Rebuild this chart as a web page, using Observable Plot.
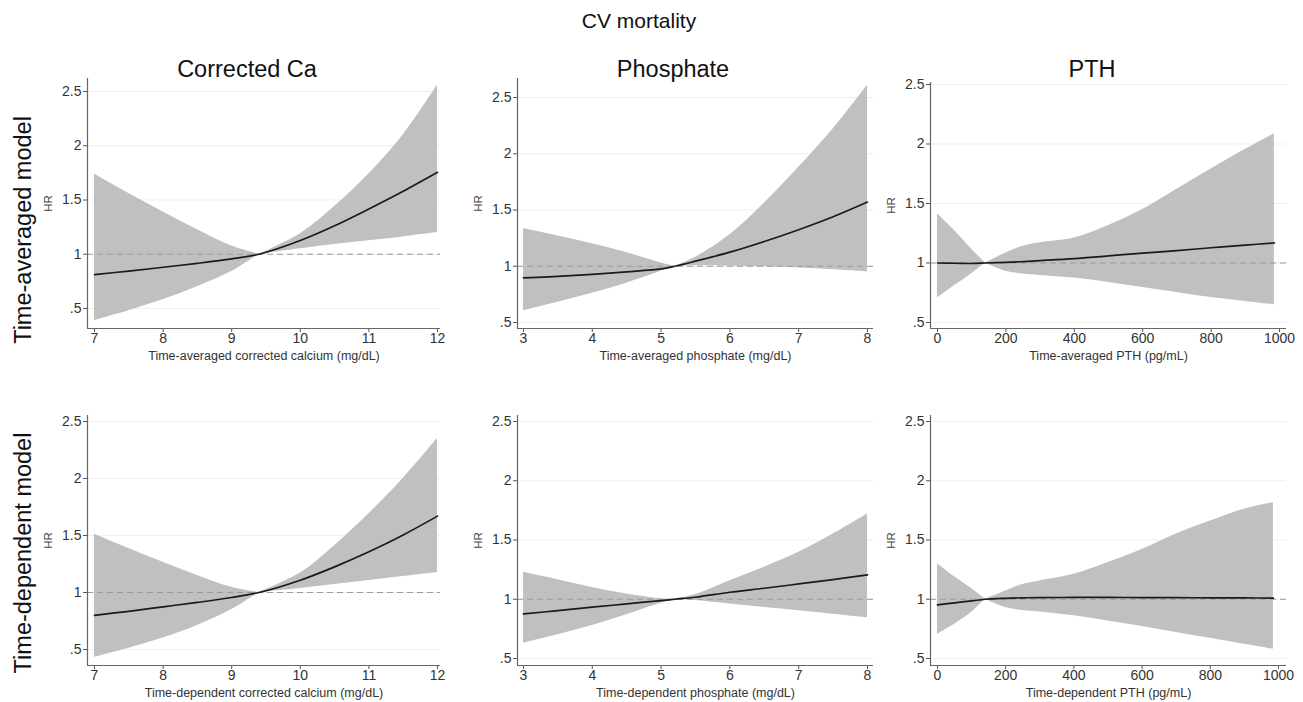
<!DOCTYPE html>
<html>
<head>
<meta charset="utf-8">
<script src="https://cdn.jsdelivr.net/npm/d3@7"></script>
<script src="https://cdn.jsdelivr.net/npm/@observablehq/plot@0.6"></script>
<style>
  html, body { margin: 0; padding: 0; background: #fff; }
  #chart { position: relative; width: 1303px; height: 702px; background: #fff; font-family: 'Liberation Sans', Arial, sans-serif; color: #111; overflow: hidden; }
  .panel { position: absolute; }
  .title { position: absolute; white-space: nowrap; transform: translate(-50%, -50%); }
  .rowlab { position: absolute; white-space: nowrap; transform: translate(-50%, -50%) rotate(-90deg); font-size: 23.5px; }
  .panel svg { overflow: visible; }
  .panel g[aria-label="y-axis label"] text { font-size: 11.5px; fill: #444; }
  .panel g[aria-label="x-axis label"] text { font-size: 12.5px; fill: #333; }
</style>
</head>
<body>
<div id="chart"></div>
<script>
// ---------- data ----------
const yTicks = [0.5, 1, 1.5, 2, 2.5];
const yTickLabels = [".5", "1", "1.5", "2", "2.5"];
const caTicks = [7, 8, 9, 10, 11, 12];
const phosTicks = [3, 4, 5, 6, 7, 8];
const pthTicks = [0, 200, 400, 600, 800, 1000];

const columnTitles = ["Corrected Ca", "Phosphate", "PTH"];
const rowTitles = ["Time-averaged model", "Time-dependent model"];
const mainTitle = "CV mortality";

// Time-averaged corrected calcium
const caAvgX  = [7, 7.5, 8, 8.5, 9, 9.4, 10, 10.5, 11, 11.5, 12];
const caAvgHR = [0.813, 0.845, 0.88, 0.916, 0.957, 1.0, 1.126, 1.262, 1.417, 1.58, 1.755];
const caAvgLo = [0.39, 0.48, 0.58, 0.70, 0.84, 1.0, 1.05, 1.09, 1.125, 1.16, 1.20];
const caAvgHi = [1.74, 1.56, 1.39, 1.225, 1.075, 1.0, 1.19, 1.44, 1.74, 2.10, 2.56];

// Time-averaged phosphate
const phAvgX  = [3, 3.5, 4, 4.5, 5, 5.2, 5.5, 6, 6.5, 7, 7.5, 8];
const phAvgHR = [0.896, 0.91, 0.928, 0.95, 0.976, 1.0, 1.045, 1.125, 1.22, 1.325, 1.44, 1.571];
const phAvgLo = [0.604, 0.68, 0.76, 0.85, 0.955, 1.0, 1.004, 1.0, 0.995, 0.985, 0.97, 0.95];
const phAvgHi = [1.336, 1.27, 1.20, 1.12, 1.03, 1.0, 1.08, 1.28, 1.56, 1.88, 2.22, 2.61];

// Time-averaged PTH
const pthAvgX  = [0, 50, 100, 140, 200, 250, 300, 400, 500, 600, 700, 800, 900, 985];
const pthAvgHR = [1.0, 0.998, 0.996, 1.0, 1.005, 1.012, 1.02, 1.037, 1.06, 1.083, 1.104, 1.128, 1.15, 1.169];
const pthAvgLo = [0.705, 0.81, 0.91, 1.0, 0.93, 0.907, 0.896, 0.873, 0.837, 0.795, 0.753, 0.71, 0.677, 0.649];
const pthAvgHi = [1.413, 1.27, 1.115, 1.0, 1.084, 1.14, 1.17, 1.21, 1.315, 1.45, 1.62, 1.79, 1.955, 2.087];

// Time-dependent corrected calcium
const caDepX  = [7, 7.5, 8, 8.5, 9, 9.4, 10, 10.5, 11, 11.5, 12];
const caDepHR = [0.80, 0.835, 0.874, 0.913, 0.956, 1.0, 1.108, 1.225, 1.357, 1.505, 1.67];
const caDepLo = [0.43, 0.51, 0.60, 0.71, 0.85, 1.0, 1.035, 1.07, 1.105, 1.14, 1.175];
const caDepHi = [1.51, 1.385, 1.265, 1.15, 1.045, 1.0, 1.17, 1.41, 1.69, 2.0, 2.35];

// Time-dependent phosphate
const phDepX  = [3, 3.5, 4, 4.5, 5, 5.2, 5.5, 6, 6.5, 7, 7.5, 8];
const phDepHR = [0.876, 0.904, 0.933, 0.961, 0.989, 1.0, 1.017, 1.059, 1.093, 1.129, 1.166, 1.205];
const phDepLo = [0.629, 0.70, 0.778, 0.87, 0.966, 1.0, 0.99, 0.96, 0.93, 0.904, 0.873, 0.843];
const phDepHi = [1.228, 1.165, 1.10, 1.045, 1.005, 1.0, 1.04, 1.157, 1.27, 1.396, 1.55, 1.72];

// Time-dependent PTH
const pthDepX  = [0, 50, 100, 140, 200, 250, 300, 400, 500, 600, 700, 800, 900, 985];
const pthDepHR = [0.952, 0.97, 0.986, 1.0, 1.008, 1.012, 1.014, 1.015, 1.015, 1.014, 1.013, 1.012, 1.011, 1.01];
const pthDepLo = [0.705, 0.79, 0.89, 1.0, 0.93, 0.905, 0.893, 0.86, 0.817, 0.77, 0.72, 0.67, 0.62, 0.579];
const pthDepHi = [1.30, 1.19, 1.09, 1.0, 1.07, 1.125, 1.155, 1.21, 1.31, 1.42, 1.55, 1.66, 1.76, 1.815];

const xLabels = [
  "Time-averaged corrected calcium (mg/dL)", "Time-averaged phosphate (mg/dL)", "Time-averaged PTH (pg/mL)",
  "Time-dependent corrected calcium (mg/dL)", "Time-dependent phosphate (mg/dL)", "Time-dependent PTH (pg/mL)"
];

// reference values (HR = 1, CI pinches to zero width)
const caRef = 9.4, phosRef = 5.2, pthRef = 140;

// ---------- layout (pixel anchors of each panel) ----------
const panels = [
  {x: caAvgX, hr: caAvgHR, lo: caAvgLo, hi: caAvgHi, ticks: caTicks, label: xLabels[0], ref: caRef,
   axisX: 87, rightX: 440, topY: 78, bottomY: 328, xa: [7, 94], xb: [12, 437], ya: [0.5, 308], yb: [2.5, 91]},
  {x: phAvgX, hr: phAvgHR, lo: phAvgLo, hi: phAvgHi, ticks: phosTicks, label: xLabels[1], ref: phosRef,
   axisX: 517, rightX: 873, topY: 78, bottomY: 328, xa: [3, 523], xb: [8, 867], ya: [0.5, 322], yb: [2.5, 97]},
  {x: pthAvgX, hr: pthAvgHR, lo: pthAvgLo, hi: pthAvgHi, ticks: pthTicks, label: xLabels[2], ref: pthRef,
   axisX: 930, rightX: 1286, topY: 82, bottomY: 328, xa: [0, 937], xb: [1000, 1279], ya: [0.5, 322], yb: [2.5, 84]},
  {x: caDepX, hr: caDepHR, lo: caDepLo, hi: caDepHi, ticks: caTicks, label: xLabels[3], ref: caRef,
   axisX: 87, rightX: 440, topY: 415, bottomY: 665, xa: [7, 94], xb: [12, 437], ya: [0.5, 649], yb: [2.5, 421]},
  {x: phDepX, hr: phDepHR, lo: phDepLo, hi: phDepHi, ticks: phosTicks, label: xLabels[4], ref: phosRef,
   axisX: 517, rightX: 873, topY: 415, bottomY: 665, xa: [3, 523], xb: [8, 867], ya: [0.5, 658], yb: [2.5, 421]},
  {x: pthDepX, hr: pthDepHR, lo: pthDepLo, hi: pthDepHi, ticks: pthTicks, label: xLabels[5], ref: pthRef,
   axisX: 930, rightX: 1286, topY: 415, bottomY: 665, xa: [0, 937], xb: [1000, 1278], ya: [0.5, 658], yb: [2.5, 421]}
];

const FONT = "'Liberation Sans', Arial, sans-serif";
const chart = document.getElementById("chart");
const ML = 60, MR = 10, MT = 5, MB = 45;

function valAt(a, b, px) { // linear map pixel -> value from two anchors
  return a[0] + (px - a[1]) * (b[0] - a[0]) / (b[1] - a[1]);
}

panels.forEach(p => {
  const rows = p.x.map((x, i) => ({x, hr: p.hr[i], lo: p.lo[i], hi: p.hi[i]}));
  // the band pinches at the reference value: draw the two sides as separate smooth segments
  const band = [
    ...rows.filter(d => d.x <= p.ref).map(d => ({...d, seg: "left"})),
    ...rows.filter(d => d.x >= p.ref).map(d => ({...d, seg: "right"}))
  ];
  const xDomain = [valAt(p.xa, p.xb, p.axisX), valAt(p.xa, p.xb, p.rightX)];
  const yDomain = [valAt(p.ya, p.yb, p.bottomY), valAt(p.ya, p.yb, p.topY)];
  const width = (p.rightX - p.axisX) + ML + MR;
  const height = (p.bottomY - p.topY) + MT + MB;
  const svg = Plot.plot({
    width, height,
    marginLeft: ML, marginRight: MR, marginTop: MT, marginBottom: MB,
    style: {fontFamily: FONT, fontSize: "14px", color: "#555", background: "transparent", overflow: "visible"},
    x: {domain: xDomain, ticks: p.ticks, tickFormat: d => String(d), tickSize: 4, tickPadding: 1,
        label: p.label, labelAnchor: "center", labelOffset: 31, labelArrow: "none"},
    y: {domain: yDomain, ticks: yTicks, tickFormat: d => yTickLabels[yTicks.indexOf(d)], tickSize: 4, tickPadding: 2,
        label: "HR", labelAnchor: "center", labelOffset: 44, labelArrow: "none"},
    marks: [
      Plot.ruleY(yTicks, {stroke: "#efefef", strokeWidth: 1}),
      Plot.areaY(band, {x: "x", y1: "lo", y2: "hi", z: "seg", fill: "#c0c0c0", curve: "catmull-rom"}),
      Plot.ruleY([1], {stroke: "#9a9a9a", strokeWidth: 1.2, strokeDasharray: "6,4"}),
      Plot.line(rows, {x: "x", y: "hr", stroke: "#1a1a1a", strokeWidth: 1.7, curve: "catmull-rom"}),
      Plot.ruleX([xDomain[0]], {stroke: "#666", strokeWidth: 1.2}),
      Plot.ruleY([yDomain[0]], {stroke: "#666", strokeWidth: 1.2})
    ]
  });
  svg.querySelectorAll('g[aria-label="x-axis tick label"] text, g[aria-label="y-axis tick label"] text').forEach(t => t.setAttribute("fill", "#333"));
  const wrap = document.createElement("div");
  wrap.className = "panel";
  wrap.style.left = (p.axisX - ML) + "px";
  wrap.style.top = (p.topY - MT) + "px";
  wrap.appendChild(svg);
  chart.appendChild(wrap);
});

// ---------- titles ----------
function addText(txt, cls, x, y, size) {
  const d = document.createElement("div");
  d.className = cls;
  d.textContent = txt;
  d.style.left = x + "px";
  d.style.top = y + "px";
  if (size) d.style.fontSize = size + "px";
  chart.appendChild(d);
}
addText(mainTitle, "title", 639, 21, 21);
const colCenters = [247, 673, 1092];
columnTitles.forEach((t, i) => addText(t, "title", colCenters[i], 69, 23.5));
const rowCenters = [230, 553];
rowTitles.forEach((t, i) => addText(t, "rowlab", 23, rowCenters[i]));
</script>
</body>
</html>
